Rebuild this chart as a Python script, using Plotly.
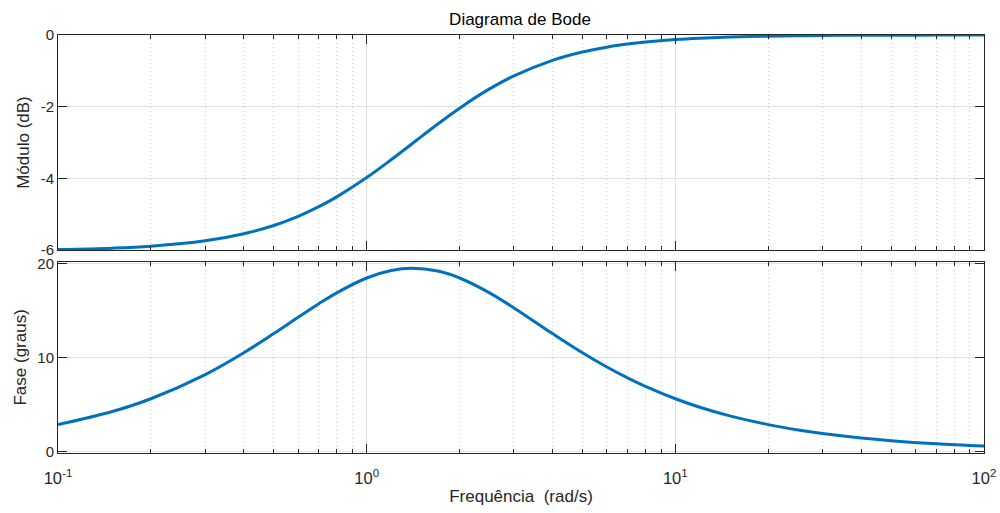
import plotly.graph_objects as go

# Frequencies (rad/s)
freq = [0.1, 0.15, 0.2, 0.3, 0.4, 0.5, 0.6, 0.7, 0.8, 1.0, 1.2, 1.4, 1.7, 2.0, 2.5,
        3, 4, 5, 6, 7, 8, 10, 12, 15, 20, 25, 30, 40, 50, 70, 100]
# Magnitude (dB)
mag_db = [-5.988, -5.948, -5.893, -5.743, -5.546, -5.315, -5.059, -4.791, -4.517, -3.979,
          -3.482, -3.040, -2.483, -2.041, -1.504, -1.139, -0.706, -0.474, -0.339, -0.253,
          -0.196, -0.127, -0.089, -0.057, -0.032, -0.021, -0.014, -0.008, -0.005, -0.003, -0.001]
# Phase (degrees)
phase_deg = [2.848, 4.242, 5.599, 8.168, 10.491, 12.529, 14.265, 15.703, 16.858, 18.435,
             19.231, 19.470, 19.170, 18.435, 16.858, 15.255, 12.529, 10.491, 8.973, 7.815,
             6.911, 5.599, 4.699, 3.781, 2.848, 2.283, 1.905, 1.430, 1.145, 0.818, 0.573]

x_major = [0.1, 1, 10, 100]
x_major_text = ["10<sup>-1</sup>", "10<sup>0</sup>", "10<sup>1</sup>", "10<sup>2</sup>"]
x_minor = [m * d for d in (0.1, 1, 10) for m in range(2, 10)]
mag_ticks = [-6, -4, -2, 0]
mag_tick_text = ["-6", "-4", "-2", "0"]
phase_ticks = [0, 10, 20]
phase_tick_text = ["0", "10", "20"]

LINE = "#0072BD"
AXC = "#262626"
GRID = "#e0e0e0"
MINORGRID = "#cfcfcf"
FONT = "Liberation Sans, Arial, sans-serif"
TXT = "#262626"

fig = go.Figure()
fig.add_trace(go.Scatter(x=freq, y=mag_db, mode="lines", line=dict(color=LINE, width=3, shape="spline"),
                         xaxis="x", yaxis="y", showlegend=False, hoverinfo="skip"))
fig.add_trace(go.Scatter(x=freq, y=phase_deg, mode="lines", line=dict(color=LINE, width=3, shape="spline"),
                         xaxis="x2", yaxis="y2", showlegend=False, hoverinfo="skip"))

def xaxis_cfg(show_labels, anchor):
    return dict(
        type="log", range=[-1, 2], anchor=anchor,
        tickvals=x_major, ticktext=x_major_text if show_labels else ["", "", "", ""],
        showticklabels=show_labels,
        ticks="inside", ticklen=9, tickcolor=AXC, tickwidth=1,
        showline=True, linecolor=AXC, linewidth=1, mirror="ticks",
        showgrid=True, gridcolor=GRID, gridwidth=1,
        zeroline=False, automargin=False,
        ticklabelstandoff=10,
        minor=dict(tickvals=x_minor, ticks="inside", ticklen=4, tickcolor=AXC,
                   showgrid=True, gridcolor=MINORGRID, griddash="1px,3px", gridwidth=1),
        tickfont=dict(size=16.5, color=TXT, family=FONT),
    )

fig.update_layout(
    width=1000, height=513,
    margin=dict(l=58, r=16, t=35, b=60, autoexpand=False),
    paper_bgcolor="white", plot_bgcolor="white",
    font=dict(family=FONT, color=TXT),
    title=dict(text="Diagrama de Bode", x=0.52, xanchor="center", y=0.963, yanchor="middle",
               font=dict(size=17, color="#000000", family=FONT)),
    xaxis=xaxis_cfg(False, "y"),
    xaxis2=dict(**xaxis_cfg(True, "y2"),
                title=dict(text="Frequência\u00a0\u00a0(rad/s)", standoff=4,
                           font=dict(size=17, color=TXT, family=FONT))),
    yaxis=dict(domain=[0.4856, 1.0], range=[-6, 0], tickvals=mag_ticks, ticktext=mag_tick_text,
               ticks="inside", ticklen=9, tickcolor=AXC, automargin=False,
               showline=True, linecolor=AXC, linewidth=1, mirror="ticks",
               showgrid=True, gridcolor=GRID, zeroline=False,
               tickfont=dict(size=15, color=TXT, family=FONT),
               title=dict(text="Módulo (dB)", standoff=6,
                          font=dict(size=17, color=TXT, family=FONT))),
    yaxis2=dict(domain=[0.0, 0.4577], range=[-0.17, 20.17], tickvals=phase_ticks, ticktext=phase_tick_text,
                ticks="inside", ticklen=9, tickcolor=AXC, automargin=False,
                showline=True, linecolor=AXC, linewidth=1, mirror="ticks",
                showgrid=True, gridcolor=GRID, zeroline=False,
                tickfont=dict(size=15, color=TXT, family=FONT),
                title=dict(text="Fase (graus)", standoff=6,
                           font=dict(size=17, color=TXT, family=FONT))),
)

fig.write_html("out.html", config={"displayModeBar": False},
               post_script="document.body.style.margin='0';document.body.style.padding='0';")
